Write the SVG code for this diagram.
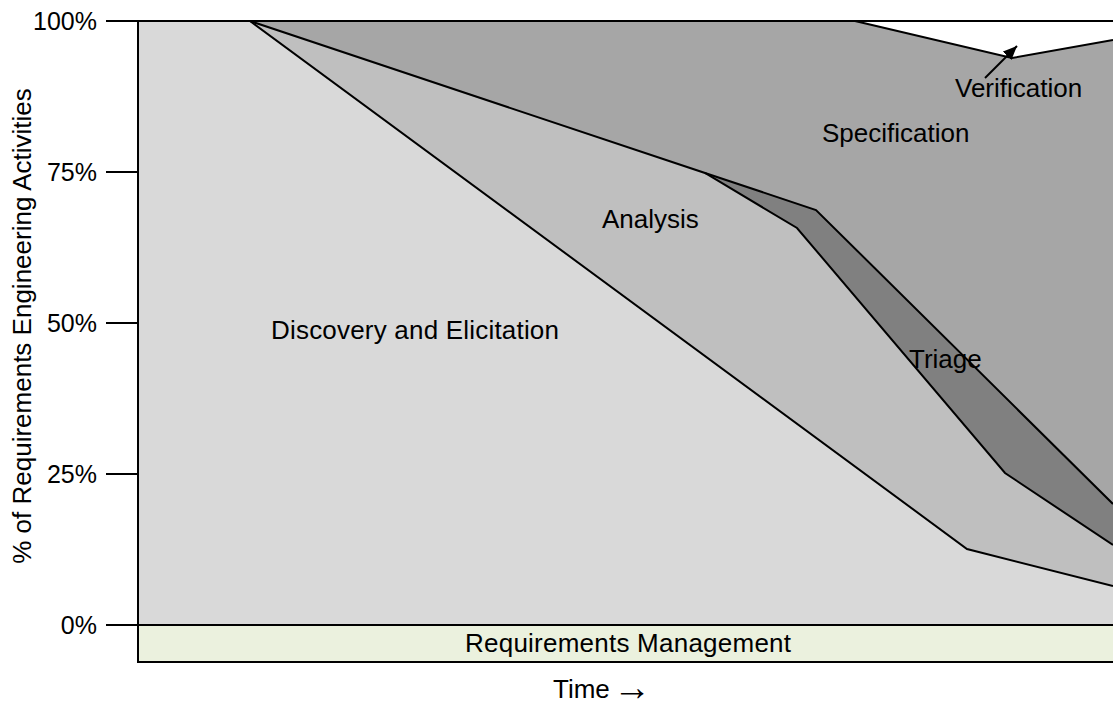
<svg xmlns="http://www.w3.org/2000/svg" width="1113" height="710" viewBox="0 0 1113 710">
<defs>
<style>
text{font-family:"Liberation Sans",Arial,sans-serif;fill:#000;}
.lbl{font-size:26px;}
.tick{font-size:25px;text-anchor:end;}
.ln{fill:none;stroke:#000;stroke-width:2;stroke-linejoin:miter;}
</style>
<marker id="ah" markerWidth="14" markerHeight="12" refX="14" refY="6" orient="auto" markerUnits="userSpaceOnUse" viewBox="0 0 14 12">
<path d="M0,0 L14,6 L0,12 Z" fill="#000"/>
</marker>
</defs>
<rect width="1113" height="710" fill="#fff"/>
<g id="discovery">
<polygon points="138,21 250,21 967,549 1113,586 1113,625 138,625" fill="#d9d9d9"/>
<text class="lbl" x="271" y="339" textLength="288" lengthAdjust="spacing">Discovery and Elicitation</text>
</g>
<g id="analysis">
<polygon points="250,21 705,173 797,228 1005,473 1113,545 1113,586 967,549" fill="#bfbfbf"/>
<text class="lbl" x="602" y="228">Analysis</text>
</g>
<g id="triage">
<polygon points="705,173 816,210 1113,504 1113,545 1005,473 797,228" fill="#808080"/>
</g>
<g id="specification">
<polygon points="250,21 855,21 1012,58 1113,40 1113,504 816,210 705,173" fill="#a6a6a6"/>
<text class="lbl" x="822" y="142">Specification</text>
</g>
<g id="verification">
<polygon points="855,21 1113,21 1113,40 1012,58" fill="#fff"/>
</g>
<g id="management">
<rect x="138" y="625" width="980" height="37" fill="#ebf1de"/>
</g>
<g id="connectors">
<path class="ln" d="M250,21 L967,549 L1113,586"/>
<path class="ln" d="M250,21 L705,173 L797,228 L1005,473 L1113,545"/>
<path class="ln" d="M705,173 L816,210 L1113,504"/>
<path class="ln" d="M855,21 L1012,58 L1113,40"/>
<path class="ln" d="M106,21 H1113"/>
<path class="ln" d="M138,21 V663"/>
<path class="ln" d="M106,172 H138 M106,323 H138 M106,474 H138"/>
<path class="ln" d="M106,625 H1113"/>
<path class="ln" d="M138,662 H1113"/>
<path d="M985,78 L1017,46" stroke="#000" stroke-width="2" fill="none" marker-end="url(#ah)"/>
</g>
<g id="labels">
<text class="lbl" x="955" y="97">Verification</text>
<text class="lbl" x="909" y="368">Triage</text>
<text class="lbl" x="628" y="652" text-anchor="middle" textLength="326" lengthAdjust="spacing">Requirements Management</text>
<text class="lbl" x="553" y="698">Time <tspan font-size="38" dx="-4" dy="2">→</tspan></text>
<text class="lbl" transform="translate(31,326) rotate(-90)" text-anchor="middle">% of Requirements Engineering Activities</text>
<text class="tick" x="97" y="30">100%</text>
<text class="tick" x="97" y="181">75%</text>
<text class="tick" x="97" y="332">50%</text>
<text class="tick" x="97" y="483">25%</text>
<text class="tick" x="97" y="634">0%</text>
</g>
</svg>
